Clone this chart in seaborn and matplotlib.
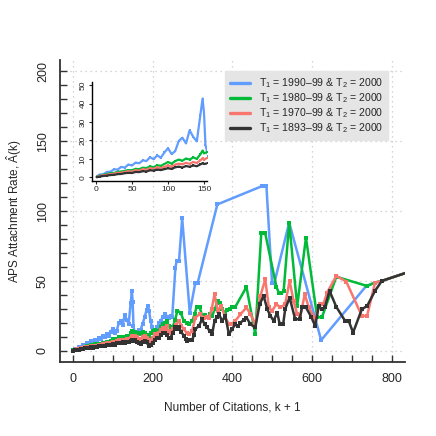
import matplotlib
matplotlib.use('Agg')
import matplotlib.pyplot as plt
from matplotlib.lines import Line2D
import pandas as pd
import seaborn as sns

# leitura aproximada dos pontos do grafico original
k_blue = [1, 5, 10, 15, 20, 25, 30, 35, 40, 45, 50, 55, 60, 65, 70, 75, 80, 85, 90, 95,
          100, 105, 110, 115, 120, 125, 130, 135, 140, 145, 148, 150, 152, 156, 160, 165,
          170, 175, 180, 185, 188, 191, 195, 199, 203, 207, 212, 216, 220, 226, 232, 237,
          241, 245, 249, 257, 260, 266, 274, 293, 307, 313, 362, 474, 485, 499, 505, 542,
          622, 735, 757, 774, 840]
a_blue = [0.5, 1.5, 1.6, 2.9, 3.0, 4.3, 4.2, 5.6, 5.3, 6.9, 6.4, 8.0, 7.6, 9.2, 8.8, 10.9,
          9.8, 11.9, 10.6, 13.5, 15.8, 12.6, 14.2, 19.8, 21.5, 18.4, 25.5, 22.0, 19.5, 34.0,
          42.8, 35.0, 17.6, 11.3, 13.5, 14.8, 15.0, 19.5, 24.0, 29.5, 32.1, 28.6, 21.0, 16.7,
          14.2, 13.0, 17.2, 19.8, 21.4, 24.2, 26.2, 24.3, 23.8, 25.2, 24.0, 59.5, 64.0, 64.0,
          94.7, 27.4, 48.8, 48.8, 104.7, 117.8, 117.8, 48.8, 48.8, 91.7, 7.6, 46.4, 48.8,
          50.0, 56.3]

k_green = [1, 5, 10, 15, 20, 25, 30, 35, 40, 45, 50, 55, 60, 65, 70, 75, 80, 85, 90, 95,
           100, 105, 110, 115, 120, 125, 130, 135, 140, 145, 148, 150, 155, 160, 165, 170,
           175, 180, 185, 190, 195, 200, 205, 210, 215, 220, 225, 230, 235, 240, 245, 250,
           256, 262, 270, 278, 285, 291, 299, 305, 310, 318, 324, 330, 337, 344, 349, 356,
           363, 369, 374, 380, 386, 393, 399, 407, 435, 457, 472, 482, 510, 516, 522, 528,
           542, 562, 584, 612, 624, 660, 737, 757, 774, 840]
a_green = [0.3, 0.8, 1.3, 1.6, 2.2, 2.3, 3.0, 3.1, 3.5, 3.9, 3.8, 4.6, 4.4, 5.2, 5.0, 5.9,
           5.5, 6.5, 6.2, 7.2, 8.3, 7.4, 8.8, 9.6, 9.0, 10.2, 9.6, 10.8, 10.0, 12.5, 14.5,
           13.0, 13.8, 12.5, 11.9, 12.8, 13.5, 13.0, 11.5, 10.8, 12.4, 14.0, 14.6, 13.8,
           14.5, 17.0, 19.5, 20.2, 21.4, 17.9, 17.0, 16.7, 22.0, 28.6, 27.4, 21.4, 20.0,
           19.0, 21.4, 26.0, 31.4, 31.0, 25.0, 25.5, 24.3, 26.0, 25.0, 30.0, 35.7, 34.5,
           30.0, 27.4, 29.0, 29.8, 31.0, 31.4, 45.7, 11.9, 84.0, 84.0, 45.7, 41.5, 41.0,
           42.5, 91.7, 32.0, 81.0, 24.0, 24.0, 53.0, 46.4, 48.8, 50.0, 56.3]

k_red = [1, 5, 10, 15, 20, 25, 30, 35, 40, 45, 50, 55, 60, 65, 70, 75, 80, 85, 90, 95,
         100, 105, 110, 115, 120, 125, 130, 135, 140, 145, 148, 150, 155, 160, 165, 170,
         175, 180, 185, 190, 195, 200, 205, 210, 215, 220, 225, 230, 235, 240, 245, 250,
         258, 266, 272, 278, 285, 291, 299, 307, 318, 328, 335, 341, 348, 355, 363, 372,
         382, 391, 399, 407, 420, 435, 445, 457, 470, 482, 491, 499, 510, 520, 532, 543,
         553, 562, 570, 581, 591, 607, 618, 628, 637, 660, 685, 724, 737, 757, 774, 840]
a_red = [0.2, 0.6, 1.0, 1.3, 1.7, 1.9, 2.4, 2.5, 2.9, 3.2, 3.1, 3.8, 3.6, 4.3, 4.1, 4.9,
         4.6, 5.4, 5.0, 5.6, 6.4, 5.8, 6.9, 7.4, 7.0, 7.9, 7.3, 8.3, 7.8, 9.2, 10.3, 9.5,
         10.7, 9.6, 8.6, 8.3, 9.8, 10.7, 9.5, 8.0, 7.1, 9.0, 11.9, 11.5, 12.5, 15.0, 16.5,
         15.5, 17.9, 13.0, 14.0, 15.5, 18.5, 21.4, 18.0, 15.5, 13.0, 11.9, 14.3, 23.8, 26.2,
         23.8, 24.5, 23.8, 30.0, 40.5, 28.6, 32.1, 23.8, 19.0, 19.0, 21.4, 26.2, 31.0, 26.2,
         19.0, 39.3, 51.2, 31.0, 28.6, 33.3, 31.0, 33.3, 50.0, 35.7, 26.2, 25.0, 40.5, 31.0,
         22.6, 33.3, 33.8, 41.7, 53.6, 49.5, 25.0, 25.0, 48.8, 50.0, 56.3]

k_black = [1, 5, 10, 15, 20, 25, 30, 35, 40, 45, 50, 55, 60, 65, 70, 75, 80, 85, 90, 95,
           100, 105, 110, 115, 120, 125, 130, 135, 140, 145, 148, 150, 155, 160, 165, 170,
           175, 180, 185, 190, 195, 200, 205, 210, 215, 220, 225, 230, 235, 240, 245, 250,
           257, 262, 266, 272, 278, 283, 287, 293, 299, 303, 307, 316, 324, 330, 337, 343,
           349, 355, 361, 366, 374, 382, 391, 399, 407, 413, 420, 428, 435, 445, 457, 468,
           478, 487, 495, 503, 512, 518, 527, 532, 543, 557, 568, 574, 584, 597, 607, 616,
           624, 631, 643, 660, 682, 691, 702, 724, 737, 757, 774, 840]
a_black = [0.0, 0.4, 0.7, 0.9, 1.2, 1.3, 1.7, 1.8, 2.2, 2.4, 2.3, 2.9, 2.8, 3.3, 3.1, 3.8,
           3.6, 4.2, 3.9, 4.4, 4.9, 4.5, 5.4, 5.8, 5.3, 6.1, 5.7, 6.4, 6.0, 7.0, 7.6, 7.2,
           7.6, 6.5, 5.8, 5.2, 6.5, 7.1, 6.0, 3.6, 4.5, 5.9, 7.5, 9.5, 9.0, 11.0, 12.5, 13.0,
           11.5, 9.5, 9.5, 12.5, 16.7, 15.5, 16.7, 13.5, 10.7, 8.5, 7.1, 7.8, 7.6, 11.0, 15.5,
           17.9, 22.6, 19.0, 16.7, 14.0, 11.9, 21.4, 24.0, 26.2, 21.4, 25.0, 11.9, 15.5, 19.0,
           17.5, 20.2, 22.0, 23.8, 19.0, 16.7, 33.3, 39.3, 29.8, 25.0, 21.4, 27.4, 19.5,
           19.5, 29.8, 38.1, 22.6, 22.6, 31.0, 31.0, 24.3, 17.9, 32.0, 29.8, 31.0, 42.9, 31.4,
           21.4, 21.4, 13.1, 29.8, 32.0, 42.9, 50.0, 56.3]

labels = ['T$_{\\mathregular{1}}$ = 1990\u201399 & T$_{\\mathregular{2}}$ = 2000',
          'T$_{\\mathregular{1}}$ = 1980\u201399 & T$_{\\mathregular{2}}$ = 2000',
          'T$_{\\mathregular{1}}$ = 1970\u201399 & T$_{\\mathregular{2}}$ = 2000',
          'T$_{\\mathregular{1}}$ = 1893\u201399 & T$_{\\mathregular{2}}$ = 2000']
cores = ['#619CFF', '#00BA38', '#F8766D', '#333333']
series = [(k_blue, a_blue), (k_green, a_green), (k_red, a_red), (k_black, a_black)]

sns.set_theme(style='white')
plt.rcParams['font.family'] = ['Liberation Sans', 'DejaVu Sans']
plt.rcParams['mathtext.fontset'] = 'custom'
plt.rcParams['mathtext.rm'] = 'Liberation Sans'
plt.rcParams['mathtext.it'] = 'Liberation Sans:italic'

fig = plt.figure(figsize=(4.36, 4.36), dpi=100)
ax = fig.add_axes([0.1376, 0.1697, 0.7913, 0.6927])

for (kk, aa), cor in zip(series, cores):
    df = pd.DataFrame({'k': kk, 'A': aa})
    sns.lineplot(data=df, x='k', y='A', ax=ax, color=cor, lw=1.8, marker='s',
                 markersize=3.0, markeredgewidth=0, estimator=None, sort=False)

ax.set_xlim(-32, 832)
ax.set_ylim(-8, 208)
for v in [0, 200, 400, 600, 800]:
    ax.axvline(v, color='#c8c8c8', lw=0.9, ls=(0, (1, 3)), zorder=0)
for v in [0, 50, 100, 150, 200]:
    ax.axhline(v, color='#c8c8c8', lw=0.9, ls=(0, (1, 3)), zorder=0)

ax.set_xticks([0, 200, 400, 600, 800])
ax.set_xticks(range(0, 801, 50), minor=True)
ax.set_yticks([0, 50, 100, 150, 200])
ax.set_yticks(range(0, 201, 10), minor=True)
ax.tick_params(which='both', direction='in', length=5, width=1, color='#333333',
               labelsize=9, left=True, bottom=True)
ax.tick_params(axis='x', pad=8)
ax.tick_params(axis='y', pad=8)
for t in ax.get_yticklabels():
    t.set_rotation(90)
    t.set_va('center')
for s in ['top', 'right']:
    ax.spines[s].set_visible(False)
for s in ['left', 'bottom']:
    ax.spines[s].set_color('#333333')
    ax.spines[s].set_linewidth(1.3)

ax.set_xlabel('Number of Citations, k + 1', fontsize=8.5, labelpad=12)
ax.set_ylabel('APS Attachment Rate, $\\hat{\\mathregular{A}}$(k)', fontsize=8.5, labelpad=9)

handles = [Line2D([0], [0], color=c, lw=2.4) for c in cores]
leg = ax.legend(handles, labels, loc='upper right', bbox_to_anchor=(0.951, 0.962),
                borderaxespad=0, fontsize=7.6, frameon=True, fancybox=False,
                handlelength=1.9, handletextpad=0.85, labelspacing=0.12,
                borderpad=0.45)
leg.get_frame().set_facecolor('#e5e5e5')
leg.get_frame().set_edgecolor('#e5e5e5')
leg.get_frame().set_alpha(1)

# detalhe k <= 150
ins = fig.add_axes([0.211, 0.585, 0.263, 0.2278])
ins.patch.set_alpha(0)
for (kk, aa), cor in zip(series, cores):
    df = pd.DataFrame({'k': kk, 'A': aa})
    df = df[df['k'] <= 156]
    sns.lineplot(data=df, x='k', y='A', ax=ins, color=cor, lw=1.6, marker='s',
                 markersize=2.0, markeredgewidth=0, estimator=None, sort=False)
ins.set_xlim(-5.6, 153.7)
ins.set_ylim(-2, 52)
ins.set_xticks([0, 50, 100, 150])
ins.set_yticks([0, 10, 20, 30, 40, 50])
ins.tick_params(direction='out', length=2.5, width=0.8, labelsize=6, pad=1.5,
                left=True, bottom=True)
for t in ins.get_yticklabels():
    t.set_rotation(90)
    t.set_va('center')
ins.set_xlabel('')
ins.set_ylabel('')
for s in ['top', 'right']:
    ins.spines[s].set_visible(False)
for s in ['left', 'bottom']:
    ins.spines[s].set_color('black')
    ins.spines[s].set_linewidth(1.0)

fig.savefig('out.png', dpi=100)
